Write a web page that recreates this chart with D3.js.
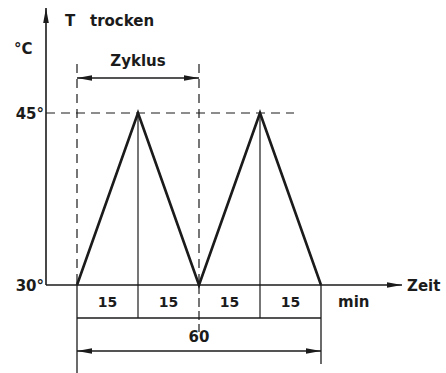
<!DOCTYPE html>
<html>
<head>
<meta charset="utf-8">
<script src="https://cdn.jsdelivr.net/npm/d3@7"></script>
<style>
  body { margin: 0; background: #fff; }
  svg text { font-family: "DejaVu Sans", sans-serif; font-weight: bold; fill: #1b1b1b; }
</style>
</head>
<body>
<div id="chart"></div>
<script>
// data
var times = [0, 15, 30, 45, 60];
var temps = [30, 45, 30, 45, 30];
var yTicks = [30, 45];
var segLabels = ["15", "15", "15", "15"];
var totalLabel = "60";
var cycle = [0, 30];

var W = 446, H = 373, ink = "#1b1b1b";

var svg = d3.select("#chart").append("svg")
    .attr("width", W).attr("height", H);

var x = d3.scaleLinear().domain([0, 60]).range([77, 321]);
var y = d3.scaleLinear().domain([30, 45]).range([285, 113]);

var axisX = 46;
var rowY = 318, arrowY60 = 351, zyklusY = 78;

// arrow heads
var defs = svg.append("defs");
function marker(id, orient) {
    defs.append("marker")
        .attr("id", id)
        .attr("viewBox", "0 -4 15 8")
        .attr("refX", 15).attr("refY", 0)
        .attr("markerWidth", 15).attr("markerHeight", 8)
        .attr("markerUnits", "userSpaceOnUse")
        .attr("orient", orient)
        .append("path")
        .attr("d", "M0,-2.8L15,0L0,2.8Z")
        .attr("fill", ink);
}
marker("arr", "auto");
marker("arr2", "auto-start-reverse");

function line(x1, y1, x2, y2, w, dash) {
    return svg.append("line")
        .attr("x1", x1).attr("y1", y1).attr("x2", x2).attr("y2", y2)
        .attr("stroke", ink).attr("stroke-width", w || 1.3)
        .attr("stroke-dasharray", dash || null);
}

// axes
line(axisX, y(30), axisX, 8, 1.6).attr("marker-end", "url(#arr)");
line(axisX, y(30), 402, y(30), 1.6).attr("marker-end", "url(#arr)");

// dashed guide at 45
line(axisX, y(45), 294, y(45), 1.2, "9,6");

// cycle dashed verticals
cycle.forEach(function(t) {
    line(x(t), 64, x(t), y(30), 1.2, "9,6");
});
// below baseline
line(x(0), y(30), x(0), 373, 1.3);
line(x(30), y(30), x(30), 332, 1.2, "9,4");
line(x(60), y(30), x(60), 364, 1.3);

// peak verticals down to the row line
times.forEach(function(t, i) {
    if (temps[i] === 45) line(x(t), y(45), x(t), rowY, 1.2);
});
line(x(0), rowY, x(60), rowY, 1.3);

// the temperature curve
svg.append("path")
    .attr("d", d3.line().x(function(d, i) { return x(times[i]); })
        .y(function(d) { return y(d); })(temps))
    .attr("fill", "none").attr("stroke", ink)
    .attr("stroke-width", 2.6).attr("stroke-linejoin", "miter");

// dimension arrows
line(x(cycle[0]), zyklusY, x(cycle[1]), zyklusY, 1.3)
    .attr("marker-start", "url(#arr2)").attr("marker-end", "url(#arr)");
line(x(0), arrowY60, x(60), arrowY60, 1.3)
    .attr("marker-start", "url(#arr2)").attr("marker-end", "url(#arr)");

// texts
function text(s, tx, ty, size, anchor) {
    return svg.append("text").attr("x", tx).attr("y", ty)
        .attr("font-size", size).attr("text-anchor", anchor || "start").text(s);
}
segLabels.forEach(function(s, i) {
    text(s, (x(times[i]) + x(times[i + 1])) / 2, 307, 14, "middle");
});
text(totalLabel, x(30), 342, 15, "middle");
text("Zyklus", (x(cycle[0]) + x(cycle[1])) / 2, 66, 15, "middle");
text("T", 65, 26, 15);
text("trocken", 90, 26, 15);
text("°C", 14, 54, 15);
yTicks.forEach(function(v) {
    text(v + "°", axisX - 2, y(v) + 6, 15, "end");
});
text("min", 338, 307, 15);
text("Zeit", 407, 291, 15);
</script>
</body>
</html>
